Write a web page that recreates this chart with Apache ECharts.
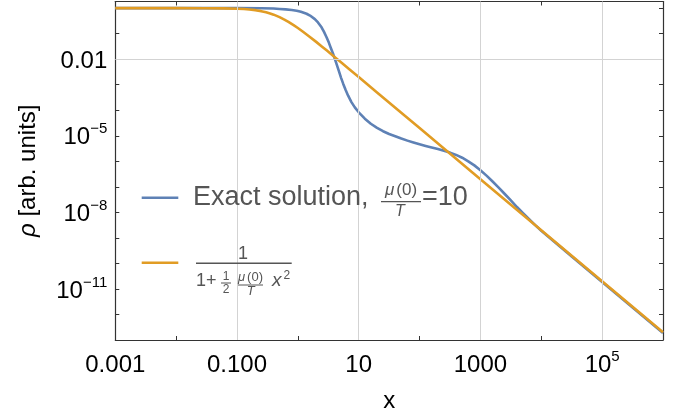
<!DOCTYPE html>
<html><head><meta charset="utf-8">
<script src="https://cdn.jsdelivr.net/npm/echarts@6/dist/echarts.min.js"></script>
<style>html,body{margin:0;padding:0;background:#fff}#c{width:681px;height:419px}</style>
</head><body><div id="c"></div>
<script>
// ---- data ----
const exactX = [0.001, 0.01, 0.1, 0.251, 0.398, 0.501, 0.631, 0.794, 0.955, 1.122, 1.39, 1.585, 1.90, 2.14, 2.45, 2.69, 2.96, 3.24, 3.48, 3.76, 4.06, 4.37, 4.71, 5.13, 5.55, 6.10, 6.70, 7.59, 8.63, 10, 12.6, 15.8, 20, 25.1, 31.6, 39.8, 50.1, 63.1, 79.4, 100, 126, 158, 200, 251, 316, 398, 501, 631, 794, 1000, 1259, 1585, 1995, 2512, 3162, 3981, 5012, 6310, 7943, 10000, 31623, 100000, 316228, 1000000];
const exactY = [1.0, 1.0, 1.0, 0.991, 0.966, 0.929, 0.891, 0.851, 0.796, 0.724, 0.603, 0.513, 0.372, 0.275, 0.178, 0.117, 0.0724, 0.0437, 0.0275, 0.0170, 0.0102, 6.03e-3, 3.47e-3, 1.86e-3, 1.10e-3, 6.17e-4, 3.72e-4, 2.09e-4, 1.29e-4, 8.32e-5, 4.68e-5, 2.95e-5, 2.04e-5, 1.51e-5, 1.17e-5, 9.55e-6, 7.76e-6, 6.46e-6, 5.43e-6, 4.62e-6, 3.98e-6, 3.47e-6, 3.02e-6, 2.60e-6, 2.19e-6, 1.78e-6, 1.38e-6, 1.0e-6, 6.92e-7, 4.47e-7, 2.75e-7, 1.62e-7, 9.33e-8, 5.25e-8, 2.95e-8, 1.62e-8, 9.33e-9, 5.37e-9, 3.16e-9, 1.91e-9, 1.86e-10, 1.86e-11, 1.86e-12, 1.86e-13];
const approxX = [0.001, 0.01, 0.03, 0.06, 0.1, 0.13, 0.16, 0.2, 0.25, 0.3, 0.35, 0.4, 0.5, 0.6, 0.7, 0.85, 1, 1.2, 1.5, 2, 2.5, 3, 4, 5, 7, 10, 20, 50, 100, 1000, 10000, 100000, 1000000];
const approxY = [1.0, 1.0, 0.996, 0.982, 0.952, 0.922, 0.887, 0.833, 0.762, 0.69, 0.62, 0.556, 0.444, 0.357, 0.29, 0.217, 0.167, 0.122, 0.0816, 0.0476, 0.031, 0.0217, 0.0123, 0.0079, 0.00406, 0.002, 5e-4, 8e-5, 2e-5, 2e-7, 2e-9, 2e-11, 2e-13];
const xTickValues = [0.001, 0.1, 10, 1000, 100000];
const xTickLabels = ['0.001', '0.100', '10', '1000', '10^5'];
const yTickValues = [0.01, 1e-5, 1e-8, 1e-11];
const yTickLabels = ['0.01', '10^\u22125', '10^\u22128', '10^\u221211'];
const xRange = [0.001, 1000000];
const yRange = [1e-13, 1.82];
const seriesNames = ['Exact solution', 'Approximation'];
const colors = ['#5e81b5', '#e19c24'];

const FONT = '"Liberation Sans", Arial, Helvetica, sans-serif';
function fmt(values, labels) {
  return function (v) {
    for (let i = 0; i < values.length; i++) {
      if (Math.abs(Math.log10(v) - Math.log10(values[i])) < 1e-6) {
        const s = labels[i];
        const k = s.indexOf('^');
        if (k < 0) return '{b|' + s + '}';
        return '{b|' + s.slice(0, k) + '}{s|' + s.slice(k + 1) + '}';
      }
    }
    return '';
  };
}
const rich = {
  b: { fontSize: 24, fontFamily: FONT, color: '#000', verticalAlign: 'bottom', lineHeight: 28 },
  s: { fontSize: 15, fontFamily: FONT, color: '#000', verticalAlign: 'top', lineHeight: 15 }
};
const frameColor = '#333';
const chart = echarts.init(document.getElementById('c'), null, { renderer: 'canvas' });

const zip = (xs, ys) => xs.map((x, i) => [x, ys[i]]);
const gridMarks = xTickValues.slice(1).map(v => ({ xAxis: v })).concat(yTickValues.map(v => ({ yAxis: v })));

function axisCommon(range, interval) {
  return {
    type: 'log', logBase: 10, min: range[0], max: range[1], interval: interval,
    axisLine: { show: true, onZero: false, lineStyle: { color: frameColor, width: 1.2 } },
    axisTick: { show: true, inside: true, length: 4, lineStyle: { color: frameColor, width: 1 } },
    splitLine: { show: false }, minorTick: { show: false }, minorSplitLine: { show: false }
  };
}

const TXT = '#555';
const gtext = (x, y, text, size, opts) => ({
  type: 'text', x: x, y: y, z: 100,
  style: Object.assign({ text: text, fill: TXT, fontSize: size, fontFamily: FONT, align: 'left', verticalAlign: 'middle' }, opts || {})
});
const muText = (x, y, size) => gtext(x, y, '{i|\u03bc}{n|(0)}', size, {
  align: 'center',
  rich: { i: { fontStyle: 'italic', fontSize: size, fontFamily: FONT, fill: TXT, color: TXT, padding: [0, 2, 0, 0] },
          n: { fontSize: size, fontFamily: FONT, fill: TXT, color: TXT } }
});
const gline = (x1, y1, x2, y2, color, w) => ({ type: 'line', z: 100, shape: { x1, y1, x2, y2 }, style: { stroke: color, lineWidth: w } });

const option = {
  animation: false,
  backgroundColor: '#fff',
  grid: { left: 115.3, top: 1.5, right: 18, bottom: 79, containLabel: false },
  xAxis: [
    Object.assign(axisCommon(xRange, 1), {
      position: 'bottom', name: 'x', nameLocation: 'middle', nameGap: 49,
      nameTextStyle: { fontSize: 24, fontFamily: FONT, color: '#000' },
      axisLabel: { show: true, margin: 9, formatter: fmt(xTickValues, xTickLabels), rich: rich, showMinLabel: true, showMaxLabel: true, hideOverlap: false }
    }),
    Object.assign(axisCommon(xRange, 1), { position: 'top', axisLabel: { show: false } })
  ],
  yAxis: [
    Object.assign(axisCommon(yRange, 1), {
      position: 'left', name: '{i|\u03c1} [arb. units]', nameLocation: 'middle', nameGap: 75, nameRotate: 90,
      nameTextStyle: { fontSize: 24, fontFamily: FONT, color: '#000', rich: { i: { fontSize: 24, fontFamily: FONT, fontStyle: 'italic', color: '#000' } } },
      axisLabel: { show: true, margin: 8, formatter: fmt(yTickValues, yTickLabels), rich: rich, showMinLabel: true, showMaxLabel: true, hideOverlap: false }
    }),
    Object.assign(axisCommon(yRange, 1), { position: 'right', axisLabel: { show: false } })
  ],
  series: [
    {
      type: 'line', name: 'grid', z: 1, data: [[xRange[0], 1]], showSymbol: false, silent: true,
      lineStyle: { opacity: 0 },
      markLine: { silent: true, symbol: 'none', animation: false, label: { show: false },
        lineStyle: { color: '#d3d3d3', width: 1, type: 'solid' }, emphasis: { disabled: true }, data: gridMarks }
    },
    {
      type: 'line', name: seriesNames[0], z: 2, data: zip(exactX, exactY), showSymbol: false, smooth: false,
      lineStyle: { color: colors[0], width: 2.6, join: 'round' }, itemStyle: { color: colors[0] }
    },
    {
      type: 'line', name: seriesNames[1], z: 3, data: zip(approxX, approxY), showSymbol: false, smooth: false,
      lineStyle: { color: colors[1], width: 2.6, join: 'round' }, itemStyle: { color: colors[1] }
    }
  ],
  graphic: [
    gline(141.7, 197.7, 178.3, 197.7, colors[0], 2.4),
    gtext(193, 198, 'Exact solution,', 27),
    muText(401, 190.5, 17),
    gline(381, 201.7, 421, 201.7, TXT, 1.2),
    gtext(400, 211.5, 'T', 16, { align: 'center', fontStyle: 'italic' }),
    gtext(422, 198, '=10', 27),

    gline(141.7, 262.7, 178.3, 262.7, colors[1], 2.4),
    gtext(243, 254, '1', 18, { align: 'center' }),
    gline(196, 263.3, 291.7, 263.3, TXT, 1.6),
    gtext(196, 281, '1+', 18),
    gtext(226, 276.5, '1', 12, { align: 'center' }),
    gline(221, 283, 231, 283, TXT, 1),
    gtext(226, 290, '2', 12, { align: 'center' }),
    muText(250.5, 277.5, 13),
    gline(238, 285, 263, 285, TXT, 1),
    gtext(250.7, 291, 'T', 13, { align: 'center', fontStyle: 'italic' }),
    gtext(272, 281, 'x', 19, { fontStyle: 'italic' }),
    gtext(283.5, 275.5, '2', 12)
  ]
};
chart.setOption(option);
</script>
</body></html>
